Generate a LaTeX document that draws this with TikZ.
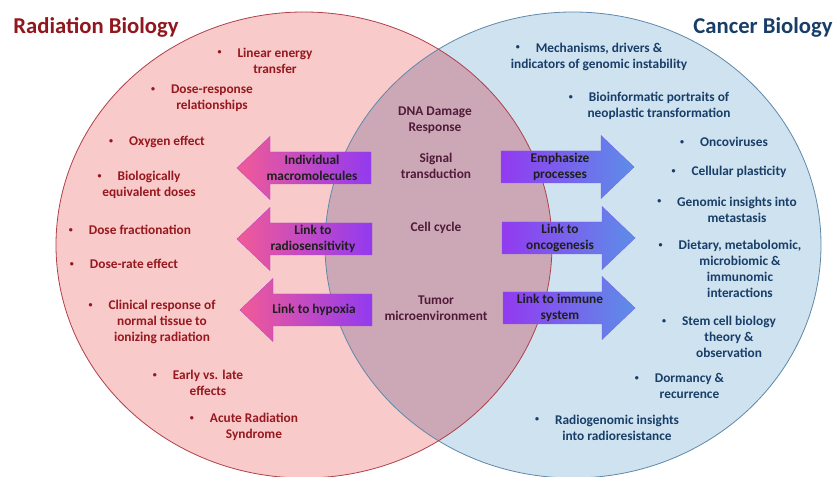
\documentclass[tikz,border=0pt]{standalone}
\usepackage{fontspec}
\setmainfont{Carlito}

\definecolor{radpink}{RGB}{249,202,202}
\definecolor{canfill}{RGB}{207,226,240}
\definecolor{overlapfill}{RGB}{204,168,183}
\definecolor{radline}{RGB}{176,64,74}
\definecolor{canline}{RGB}{96,136,170}
\definecolor{radtext}{RGB}{150,24,30}
\definecolor{cantext}{RGB}{24,62,104}
\definecolor{midtext}{RGB}{80,26,56}
\definecolor{hotpink}{RGB}{242,90,150}
\definecolor{arrviolet}{RGB}{146,58,240}
\definecolor{arrblue}{RGB}{92,142,232}

% small bullet hanging left of the first line
\newcommand{\itm}{\llap{\raisebox{1.6pt}{\fontsize{6}{6}\selectfont\textbullet}\hspace{12pt}}}
% arrow to the left: tip x, tail x, centre y
\newcommand{\linkleft}[3]{\shade[leftlink] (#1,#3) -- (#1+33,#3-31.5) -- (#1+33,#3-16) -- (#2,#3-16) -- (#2,#3+16) -- (#1+33,#3+16) -- (#1+33,#3+31.5) -- cycle;}
% arrow to the right: tail x, tip x, centre y
\newcommand{\linkright}[3]{\shade[rightlink] (#2,#3) -- (#2-33,#3-31.5) -- (#2-33,#3-16) -- (#1,#3-16) -- (#1,#3+16) -- (#2-33,#3+16) -- (#2-33,#3+31.5) -- cycle;}

\tikzset{
	txt/.style={align=center,font=\fontsize{10}{12}\selectfont\bfseries},
	radtxt/.style={txt,text=radtext},
	cantxt/.style={txt,text=cantext},
	midtxt/.style={txt,text=midtext},
	linktxt/.style={txt,text=black!88},
	title/.style={font=\fontsize{17}{20}\selectfont\bfseries},
	leftlink/.style={left color=hotpink,right color=arrviolet,draw=arrviolet!60!hotpink,line width=0.3pt},
	rightlink/.style={left color=arrviolet,right color=arrblue,draw=arrviolet!50!arrblue,line width=0.3pt}
}

\begin{document}
\begin{tikzpicture}[x=0.75pt,y=-0.75pt]
	\fill[white] (0,0) rectangle (839,477);
	\clip (0,0) rectangle (839,477);
	% the two sets
	\fill[radpink] (304,245) ellipse (248 and 233);
	\fill[canfill] (573,245) ellipse (248 and 233);
	\begin{scope}
		\clip (304,245) ellipse (248 and 233);
		\fill[overlapfill] (573,245) ellipse (248 and 233);
	\end{scope}
	\draw[canline,line width=0.6pt] (573,245) ellipse (248 and 233);
	\draw[radline,line width=0.6pt] (304,245) ellipse (248 and 233);
	% titles
	\node[title,text=radtext!95!black] (radtitle) at (96,27) {Radiation Biology};
	\node[title,text=cantext] (cantitle) at (763,27) {Cancer Biology};
	% radiation biology
	\node[radtxt] (let) at (275,60.5) {\itm Linear energy\\transfer};
	\node[radtxt] (doseresp) at (212,98.5) {\itm Dose-response\\relationships};
	\node[radtxt] (oxygen) at (167,142) {\itm Oxygen effect};
	\node[radtxt] (bed) at (149,185) {\itm Biologically\\equivalent doses};
	\node[radtxt] (fraction) at (140,230) {\itm Dose fractionation};
	\node[radtxt] (doserate) at (134,264) {\itm Dose-rate effect};
	\node[radtxt] (clinical) at (162,322) {\itm Clinical response of\\normal tissue to\\ionizing radiation};
	\node[radtxt] (earlylate) at (208,383) {\itm Early vs. late\\effects};
	\node[radtxt] (ars) at (254,427) {\itm Acute Radiation\\Syndrome};
	% shared
	\node[midtxt] (ddr) at (435,120.5) {DNA Damage\\Response};
	\node[midtxt] (signal) at (436,166) {Signal\\transduction};
	\node[midtxt] (cycle) at (436,228) {Cell cycle};
	\node[midtxt] (tumor) at (436,308.5) {Tumor\\microenvironment};
	% cancer biology
	\node[cantxt] (instab) at (599,56.5) {\itm Mechanisms, drivers \&\\indicators of genomic instability};
	\node[cantxt] (bioinf) at (659,105.5) {\itm Bioinformatic portraits of\\neoplastic transformation};
	\node[cantxt] (onco) at (734,142) {\itm Oncoviruses};
	\node[cantxt] (plastic) at (739,172) {\itm Cellular plasticity};
	\node[cantxt] (metast) at (737,209.5) {\itm Genomic insights into\\metastasis};
	\node[cantxt] (diet) at (740,269) {\itm Dietary, metabolomic,\\microbiomic \&\\immunomic\\interactions};
	\node[cantxt] (stem) at (729,337) {\itm Stem cell biology\\theory \&\\observation};
	\node[cantxt] (dormancy) at (689.5,386) {\itm Dormancy \&\\recurrence};
	\node[cantxt] (radiogen) at (617,427.5) {\itm Radiogenomic insights\\into radioresistance};
	% arrows out of the overlap
	\linkleft{237}{371}{168}
	\linkleft{237}{372}{239}
	\linkleft{240}{372}{310}
	\linkright{501}{634}{167}
	\linkright{502}{635}{238}
	\linkright{503}{635}{308}
	\node[linktxt] (macro) at (312,168) {Individual\\macromolecules};
	\node[linktxt] (radsens) at (313,239) {Link to\\radiosensitivity};
	\node[linktxt] (hypoxia) at (314,310) {Link to hypoxia};
	\node[linktxt] (process) at (560,167) {Emphasize\\processes};
	\node[linktxt] (oncogen) at (560,238) {Link to\\oncogenesis};
	\node[linktxt] (immune) at (560,308) {Link to immune\\system};
\end{tikzpicture}
\end{document}
